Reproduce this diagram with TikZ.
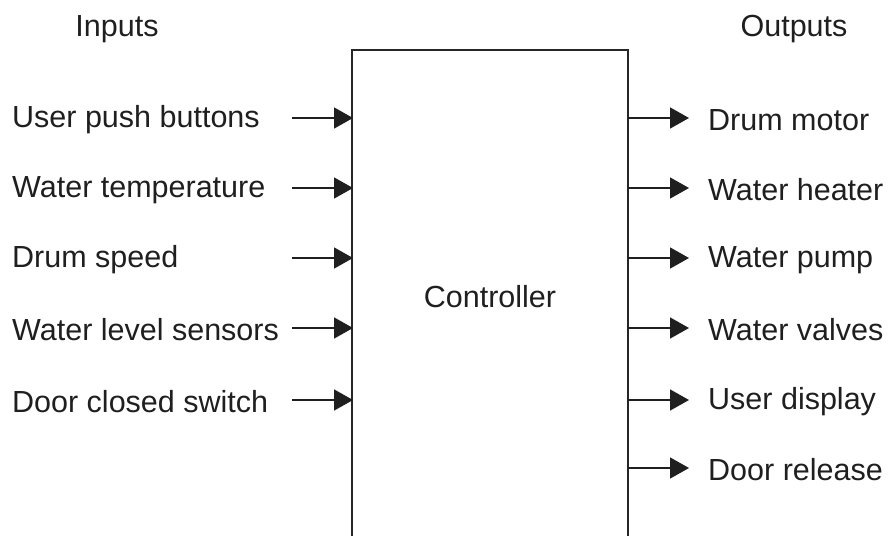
\documentclass[tikz,border=0pt]{standalone}
\usepackage{fontspec}
\setmainfont{Liberation Sans}
\usetikzlibrary{arrows.meta}
\begin{document}
\begin{tikzpicture}[x=1pt,y=-1pt,
  lbl/.style={inner sep=0pt,font=\fontsize{30.5}{33}\selectfont,text=black!88},
  inlbl/.style={lbl,anchor=west},
  outlbl/.style={lbl,anchor=west},
  sig/.style={line width=1.6pt,draw=black!88,-{Triangle[length=19pt,width=21pt]}},
  edge/.style={line width=1.8pt,draw=black!85}]
\useasboundingbox (0,0) rectangle (888,535);
% controller box (open at bottom)
\coordinate (bl) at (352,536);
\coordinate (tl) at (352,50);
\coordinate (tr) at (628,50);
\coordinate (br) at (628,536);
\draw[edge] (bl) -- (tl) -- (tr) -- (br);
\node[lbl] (ctrl) at (490,297) {Controller};
\node[lbl] (inputs) at (117,29) {Inputs};
\node[lbl] (outputs) at (794,29) {Outputs};
% inputs
\foreach \i/\t/\y in {1/User push buttons/118,2/Water temperature/188,3/Drum speed/258,4/Water level sensors/328,5/Door closed switch/400}{
  \node[inlbl] (in\i) at (12,\y+2) {\t};
  \coordinate (ins\i) at (292,\y);
  \coordinate (ine\i) at (353,\y);
  \draw[sig] (ins\i) -- (ine\i);
}
% outputs
\foreach \i/\t/\y in {1/Drum motor/118,2/Water heater/188,3/Water pump/258,4/Water valves/328,5/User display/400,6/Door release/468}{
  \node[outlbl] (out\i) at (708,\y+2) {\t};
  \coordinate (os\i) at (628,\y);
  \coordinate (oe\i) at (689,\y);
  \draw[sig] (os\i) -- (oe\i);
}
\end{tikzpicture}
\end{document}
